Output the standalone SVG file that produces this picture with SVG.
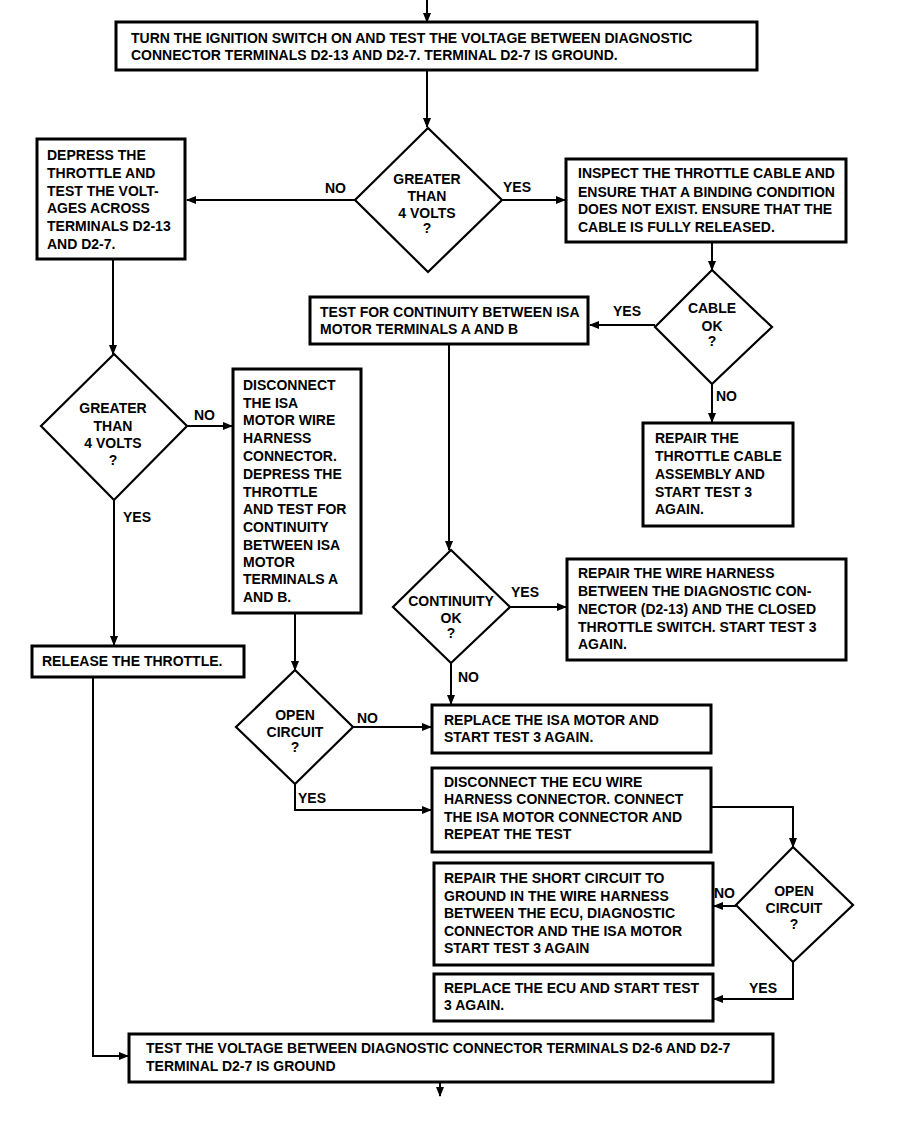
<svg xmlns="http://www.w3.org/2000/svg" width="908" height="1127" viewBox="0 0 908 1127">
<style>
.box{fill:#fff;stroke:#000;stroke-width:3}
.dia{fill:#fff;stroke:#000;stroke-width:2.2}
.t{font-family:"Liberation Sans",Arial,sans-serif;font-size:14px;font-weight:bold;fill:#000}
.c{text-anchor:middle}
.ln{fill:none;stroke:#000;stroke-width:2;marker-end:url(#ah)}
</style>
<defs>
<marker id="ah" viewBox="0 0 10 10" refX="9" refY="5" markerWidth="5" markerHeight="5" orient="auto" markerUnits="strokeWidth">
<path d="M0,1 L10,5 L0,9 z" fill="#000"/>
</marker>
</defs>
<rect width="908" height="1127" fill="#fff"/>
<g id="connectors">
<path class="ln" d="M427,0 V22"/>
<path class="ln" d="M427,70 V127"/>
<path class="ln" d="M355,200 H187"/>
<path class="ln" d="M502,200 H565"/>
<path class="ln" d="M712,242 V270"/>
<path class="ln" d="M655,325 H590"/>
<path class="ln" d="M712,384 V422"/>
<path class="ln" d="M113,260 V354"/>
<path class="ln" d="M187,426 H232"/>
<path class="ln" d="M114,500 V645"/>
<path class="ln" d="M449,344 V550"/>
<path class="ln" d="M510,607 H566"/>
<path class="ln" d="M451,663 V704"/>
<path class="ln" d="M295,613 V670"/>
<path class="ln" d="M353,727 H431"/>
<path class="ln" d="M295,784 V810 H431"/>
<path class="ln" d="M711,807 H793 V847"/>
<path class="ln" d="M736,906 H714"/>
<path class="ln" d="M793,962 V999 H714"/>
<path class="ln" d="M93,677 V1056 H128"/>
<path class="ln" d="M440,1082 V1096"/>
</g>
<g id="n_top">
<rect class="box" x="116" y="22" width="641" height="48"/>
<text class="t" x="131" y="43">TURN THE IGNITION SWITCH ON AND TEST THE VOLTAGE BETWEEN DIAGNOSTIC</text>
<text class="t" x="131" y="60">CONNECTOR TERMINALS D2-13 AND D2-7. TERMINAL D2-7 IS GROUND.</text>
</g>
<g id="d_greater1">
<polygon class="dia" points="428,128 502,200 428,272 355,200"/>
<text class="t c" x="427" y="184">GREATER</text>
<text class="t c" x="427" y="201">THAN</text>
<text class="t c" x="427" y="218">4 VOLTS</text>
<text class="t c" x="427" y="233">?</text>
<text class="t" x="325" y="193">NO</text>
<text class="t" x="503" y="192">YES</text>
</g>
<g id="n_depress">
<rect class="box" x="37" y="139" width="148" height="120"/>
<text class="t" x="47" y="160">DEPRESS THE</text>
<text class="t" x="47" y="178">THROTTLE AND</text>
<text class="t" x="47" y="196">TEST THE VOLT-</text>
<text class="t" x="47" y="213">AGES ACROSS</text>
<text class="t" x="47" y="231">TERMINALS D2-13</text>
<text class="t" x="47" y="249">AND D2-7.</text>
</g>
<g id="n_inspect">
<rect class="box" x="566" y="159" width="280" height="83"/>
<text class="t" x="578" y="178">INSPECT THE THROTTLE CABLE AND</text>
<text class="t" x="578" y="197">ENSURE THAT A BINDING CONDITION</text>
<text class="t" x="578" y="214">DOES NOT EXIST. ENSURE THAT THE</text>
<text class="t" x="578" y="232">CABLE IS FULLY RELEASED.</text>
</g>
<g id="d_cable">
<polygon class="dia" points="712,270 772,327 712,384 655,327"/>
<text class="t c" x="712" y="313">CABLE</text>
<text class="t c" x="712" y="331">OK</text>
<text class="t c" x="712" y="346">?</text>
<text class="t" x="613" y="316">YES</text>
<text class="t" x="716" y="401">NO</text>
</g>
<g id="n_testcont">
<rect class="box" x="310" y="297" width="278" height="47"/>
<text class="t" x="320" y="317">TEST FOR CONTINUITY BETWEEN ISA</text>
<text class="t" x="320" y="334">MOTOR TERMINALS A AND B</text>
</g>
<g id="n_repaircable">
<rect class="box" x="643" y="423" width="150" height="103"/>
<text class="t" x="655" y="443">REPAIR THE</text>
<text class="t" x="655" y="461">THROTTLE CABLE</text>
<text class="t" x="655" y="479">ASSEMBLY AND</text>
<text class="t" x="655" y="497">START TEST 3</text>
<text class="t" x="655" y="514">AGAIN.</text>
</g>
<g id="d_greater2">
<polygon class="dia" points="114,354 187,426 114,500 41,426"/>
<text class="t c" x="113" y="413">GREATER</text>
<text class="t c" x="113" y="431">THAN</text>
<text class="t c" x="113" y="448">4 VOLTS</text>
<text class="t c" x="113" y="465">?</text>
<text class="t" x="194" y="420">NO</text>
<text class="t" x="123" y="522">YES</text>
</g>
<g id="n_disconnect">
<rect class="box" x="233" y="369" width="128" height="244"/>
<text class="t" x="243" y="390">DISCONNECT</text>
<text class="t" x="243" y="408">THE ISA</text>
<text class="t" x="243" y="425">MOTOR WIRE</text>
<text class="t" x="243" y="443">HARNESS</text>
<text class="t" x="243" y="461">CONNECTOR.</text>
<text class="t" x="243" y="479">DEPRESS THE</text>
<text class="t" x="243" y="497">THROTTLE</text>
<text class="t" x="243" y="514">AND TEST FOR</text>
<text class="t" x="243" y="532">CONTINUITY</text>
<text class="t" x="243" y="550">BETWEEN ISA</text>
<text class="t" x="243" y="567">MOTOR</text>
<text class="t" x="243" y="584">TERMINALS A</text>
<text class="t" x="243" y="602">AND B.</text>
</g>
<g id="d_continuity">
<polygon class="dia" points="451,550 510,607 451,663 393,607"/>
<text class="t c" x="451" y="606">CONTINUITY</text>
<text class="t c" x="451" y="623">OK</text>
<text class="t c" x="451" y="638">?</text>
<text class="t" x="511" y="597">YES</text>
<text class="t" x="458" y="682">NO</text>
</g>
<g id="n_repairharness">
<rect class="box" x="567" y="559" width="279" height="101"/>
<text class="t" x="578" y="578">REPAIR THE WIRE HARNESS</text>
<text class="t" x="578" y="596">BETWEEN THE DIAGNOSTIC CON-</text>
<text class="t" x="578" y="614">NECTOR (D2-13) AND THE CLOSED</text>
<text class="t" x="578" y="632">THROTTLE SWITCH. START TEST 3</text>
<text class="t" x="578" y="649">AGAIN.</text>
</g>
<g id="n_release">
<rect class="box" x="32" y="646" width="212" height="31"/>
<text class="t" x="42" y="666">RELEASE THE THROTTLE.</text>
</g>
<g id="d_open1">
<polygon class="dia" points="295,670 353,727 295,784 236,727"/>
<text class="t c" x="295" y="720">OPEN</text>
<text class="t c" x="295" y="737">CIRCUIT</text>
<text class="t c" x="295" y="752">?</text>
<text class="t" x="357" y="723">NO</text>
<text class="t" x="298" y="803">YES</text>
</g>
<g id="n_replaceisa">
<rect class="box" x="432" y="705" width="279" height="48"/>
<text class="t" x="444" y="725">REPLACE THE ISA MOTOR AND</text>
<text class="t" x="444" y="742">START TEST 3 AGAIN.</text>
</g>
<g id="n_disconnectecu">
<rect class="box" x="432" y="768" width="279" height="84"/>
<text class="t" x="444" y="787">DISCONNECT THE ECU WIRE</text>
<text class="t" x="444" y="804">HARNESS CONNECTOR. CONNECT</text>
<text class="t" x="444" y="822">THE ISA MOTOR CONNECTOR AND</text>
<text class="t" x="444" y="839">REPEAT THE TEST</text>
</g>
<g id="d_open2">
<polygon class="dia" points="793,847 853,905 793,962 736,905"/>
<text class="t c" x="794" y="896">OPEN</text>
<text class="t c" x="794" y="913">CIRCUIT</text>
<text class="t c" x="794" y="929">?</text>
<text class="t" x="714" y="898">NO</text>
<text class="t" x="749" y="993">YES</text>
</g>
<g id="n_repairshort">
<rect class="box" x="434" y="863" width="279" height="102"/>
<text class="t" x="444" y="883">REPAIR THE SHORT CIRCUIT TO</text>
<text class="t" x="444" y="901">GROUND IN THE WIRE HARNESS</text>
<text class="t" x="444" y="918">BETWEEN THE ECU, DIAGNOSTIC</text>
<text class="t" x="444" y="936">CONNECTOR AND THE ISA MOTOR</text>
<text class="t" x="444" y="953">START TEST 3 AGAIN</text>
</g>
<g id="n_replaceecu">
<rect class="box" x="434" y="974" width="279" height="47"/>
<text class="t" x="444" y="993">REPLACE THE ECU AND START TEST</text>
<text class="t" x="444" y="1010">3 AGAIN.</text>
</g>
<g id="n_final">
<rect class="box" x="129" y="1034" width="644" height="48"/>
<text class="t" x="146" y="1053">TEST THE VOLTAGE BETWEEN DIAGNOSTIC CONNECTOR TERMINALS D2-6 AND D2-7</text>
<text class="t" x="146" y="1071">TERMINAL D2-7 IS GROUND</text>
</g>
</svg>
